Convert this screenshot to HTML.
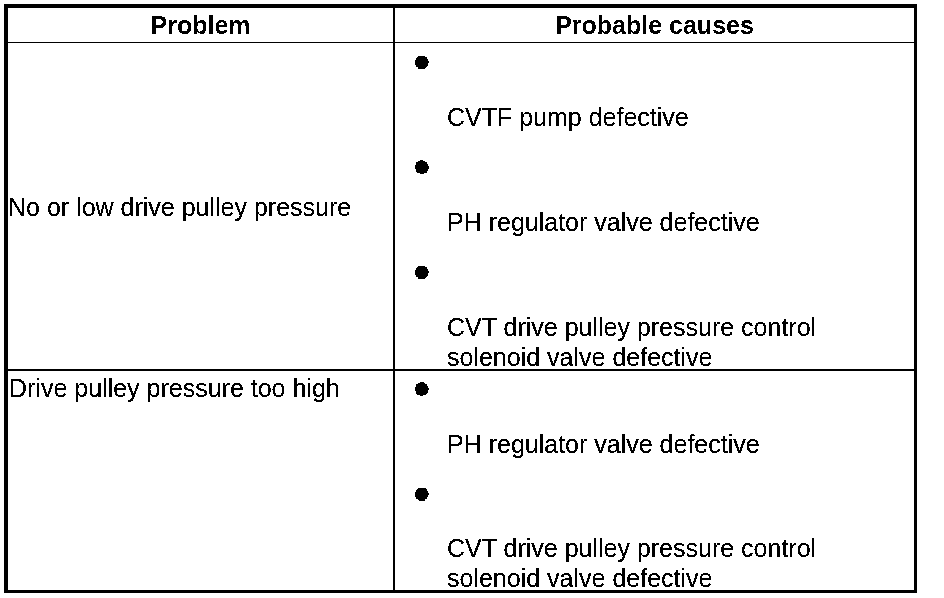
<!DOCTYPE html>
<html>
<head>
<meta charset="utf-8">
<title>Troubleshooting table</title>
<style>
html,body{margin:0;padding:0;background:#fff;}
body{width:944px;height:598px;position:relative;overflow:hidden;font-family:"Liberation Sans",Arial,Helvetica,sans-serif;color:#000;font-size:25px;line-height:29px;}
.frame{position:absolute;left:4px;top:4px;width:906px;height:582px;border-style:solid;border-color:#000;border-width:4px 3px 3px 4px;}
.vline{position:absolute;left:393px;top:8px;width:2px;height:582px;background:#000;}
.h1{position:absolute;left:8px;top:42px;width:906px;height:1px;background:#000;}
.h2{position:absolute;left:8px;top:369px;width:906px;height:2px;background:#000;}
.t{position:absolute;white-space:nowrap;filter:url(#thr);}
.b{font-weight:bold;text-align:center;filter:url(#thrb);}
</style>
</head>
<body>
<svg width="0" height="0" style="position:absolute;left:0;top:0;"><defs><filter id="thr" color-interpolation-filters="sRGB"><feComponentTransfer><feFuncA type="discrete" tableValues="0 0 1 1 1"/></feComponentTransfer></filter><filter id="thrb" color-interpolation-filters="sRGB"><feComponentTransfer><feFuncA type="discrete" tableValues="0 1"/></feComponentTransfer></filter></defs></svg>
<div class="frame"></div>
<div class="vline"></div>
<div class="h1"></div>
<div class="h2"></div>
<svg class="bul" width="944" height="598" viewBox="0 0 944 598" shape-rendering="crispEdges" style="position:absolute;left:0;top:0;">
<path d="M418 56h7v1h-7zM417 57h10v1h-10zM416 58h11v1h-11zM416 59h12v1h-12zM415 60h13v1h-13zM415 61h14v1h-14zM415 62h14v1h-14zM415 63h13v1h-13zM415 64h13v1h-13zM416 65h12v1h-12zM416 66h11v1h-11zM418 67h8v1h-8zM418 68h7v1h-7z" fill="#000"/>
<path d="M420 160h3v1h-3zM418 161h7v1h-7zM416 162h11v1h-11zM416 163h11v1h-11zM416 164h12v1h-12zM415 165h13v1h-13zM415 166h14v1h-14zM415 167h14v1h-14zM415 168h14v1h-14zM416 169h12v1h-12zM416 170h12v1h-12zM416 171h11v1h-11zM417 172h10v1h-10zM420 173h4v1h-4z" fill="#000"/>
<path d="M418 266h7v1h-7zM417 267h10v1h-10zM416 268h11v1h-11zM416 269h12v1h-12zM415 270h13v1h-13zM415 271h14v1h-14zM415 272h14v1h-14zM415 273h13v1h-13zM415 274h13v1h-13zM416 275h12v1h-12zM416 276h11v1h-11zM418 277h8v1h-8zM418 278h7v1h-7z" fill="#000"/>
<path d="M420 382h4v1h-4zM418 383h7v1h-7zM416 384h11v1h-11zM416 385h11v1h-11zM416 386h12v1h-12zM415 387h13v1h-13zM415 388h14v1h-14zM415 389h14v1h-14zM415 390h13v1h-13zM416 391h12v1h-12zM416 392h12v1h-12zM416 393h11v1h-11zM417 394h9v1h-9zM420 395h3v1h-3z" fill="#000"/>
<path d="M418 488h8v1h-8zM417 489h10v1h-10zM416 490h11v1h-11zM416 491h12v1h-12zM415 492h13v1h-13zM415 493h14v1h-14zM415 494h14v1h-14zM415 495h13v1h-13zM415 496h13v1h-13zM416 497h11v1h-11zM416 498h11v1h-11zM418 499h7v1h-7zM419 500h6v1h-6z" fill="#000"/>
</svg>

<div class="t b" style="left:8px;width:385px;top:11px;">Problem</div>
<div class="t b" style="left:395px;width:519px;top:11px;">Probable causes</div>

<div class="t" style="left:8px;top:193px;">No or low drive pulley pressure</div>
<div class="t" style="left:9px;top:374px;">Drive pulley pressure too high</div>

<div class="t" style="left:447px;top:103px;">CVTF pump defective</div>
<div class="t" style="left:447px;top:208px;">PH regulator valve defective</div>
<div class="t" style="left:447px;top:313px;">CVT drive pulley pressure control</div>
<div class="t" style="left:447px;top:343px;">solenoid valve defective</div>

<div class="t" style="left:447px;top:430px;">PH regulator valve defective</div>
<div class="t" style="left:447px;top:534px;">CVT drive pulley pressure control</div>
<div class="t" style="left:447px;top:564px;">solenoid valve defective</div>
</body>
</html>
